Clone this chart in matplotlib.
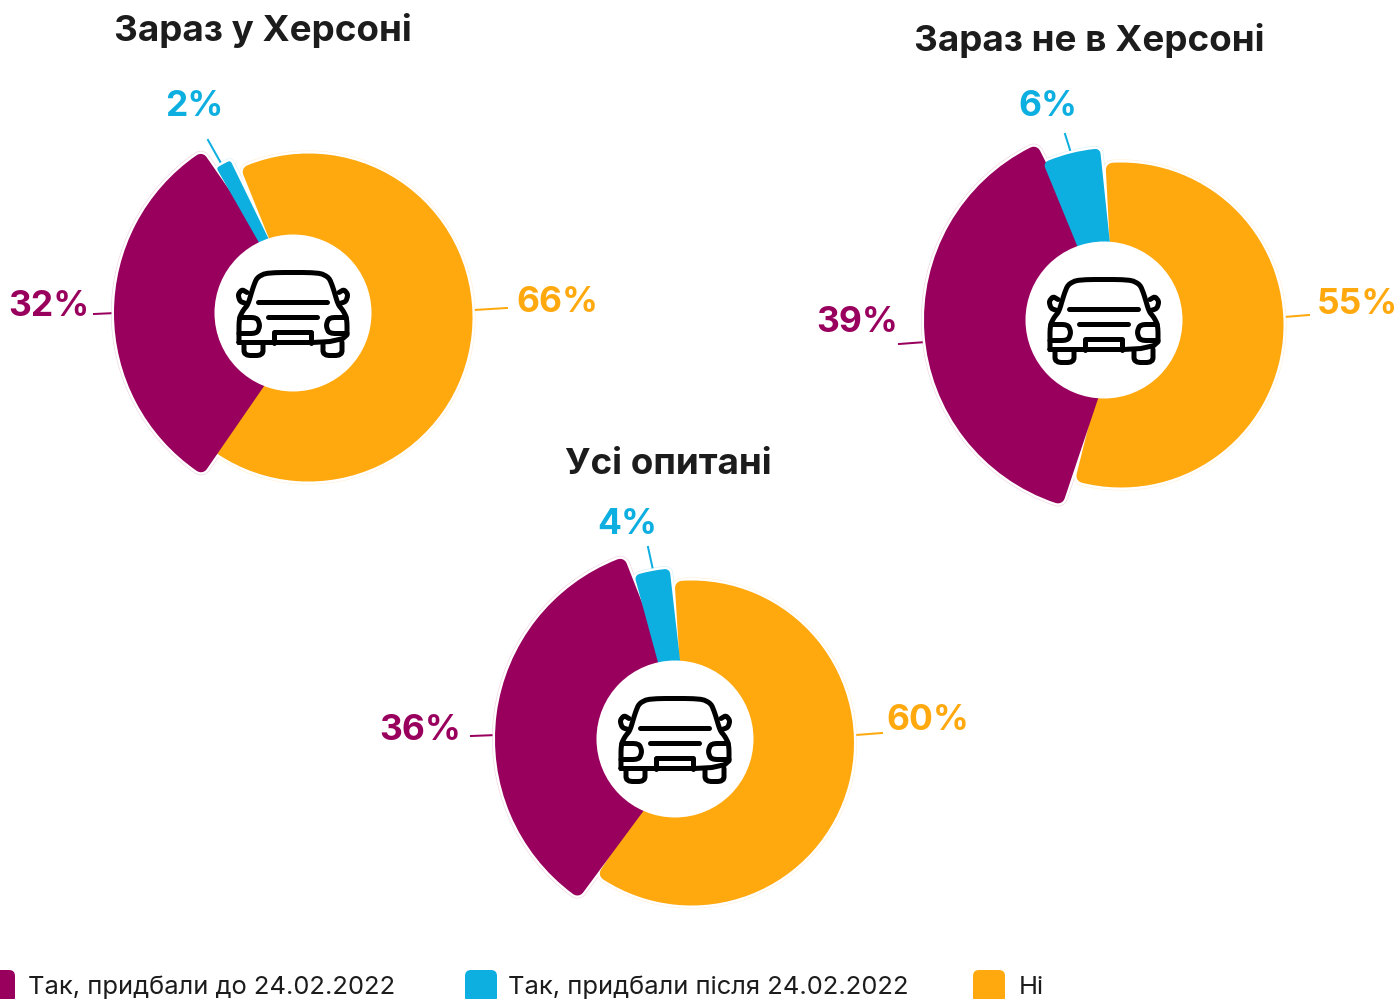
import matplotlib
matplotlib.use("Agg")
import matplotlib.pyplot as plt
import numpy as np
from matplotlib.patches import Wedge, Circle, FancyBboxPatch

W, H = 1398, 999
plt.rcParams['font.family'] = ['Inter', 'DejaVu Sans']

# shares in %, order: no / before / after
titles = ["Зараз у Херсоні", "Зараз не в Херсоні", "Усі опитані"]
no_car = [66, 55, 60]
before = [32, 39, 36]
after = [2, 6, 4]
legend_labels = ["Так, придбали до 24.02.2022", "Так, придбали після 24.02.2022", "Ні"]

PURPLE = '#99005E'
BLUE = '#0DAEE0'
ORANGE = '#FFA90F'
DARK = '#1c1c1c'
colors = [ORANGE, PURPLE, BLUE]


def Y(y):
    # picture y (down) to axes y (up)
    return H - y


fig = plt.figure(figsize=(W / 100, H / 100), dpi=100)
ax = fig.add_axes([0, 0, 1, 1])

# layout of each donut: hole centre, rotation, sector offsets/radii/angle trims
layouts = [
    dict(c=(293, 313), rot=108, title=(263, 30),
         off=[(15.5, 4.5), (13, 0), (9, 0)], rad=[157, 185, 166], lw=[14, 14, 5],
         trim=[(6, -4), (9.5, -5), (8, -4.5)],
         val_xy=[(557, 302), (49, 306), (194, 107)],
         lead=[((474, 310), (507, 308)), ((94, 314), (116, 313)), ((208, 140), (222, 165))]),
    dict(c=(1104, 320), rot=93, title=(1089, 40),
         off=[(17, 5), (13, 0), (9, 0)], rad=[155.5, 186, 167], lw=[14, 14, 10],
         trim=[(1, 0), (2, 3.5), (3, 2.3)],
         val_xy=[(1357, 305), (857, 323), (1048, 107)],
         lead=[((1284, 317), (1309, 315)), ((899, 344), (926, 342)), ((1065, 134), (1071, 153))]),
    dict(c=(675, 739), rot=92, title=(668, 465),
         off=[(16.5, 4), (13, 0), (9, 0)], rad=[155.5, 186, 166], lw=[14, 14, 10],
         trim=[(1, -1.5), (5, 2.5), (4.5, 1.2)],
         val_xy=[(928, 721), (420, 731), (627, 524)],
         lead=[((856, 735), (882, 733)), ((471, 736), (497, 735)), ((648, 547), (653, 570))]),
]

# car icon, pixels around the hole centre, y down
car_paths = [
    # body
    [(-54, 28), (-54, 4), (-50, -4), (-45, -10), (-40, -27), (-36, -37), (-26, -42), (26, -42),
     (36, -37), (40, -27), (45, -10), (50, -4), (54, 4), (54, 28), (-54, 28)],
    # screen lines
    [(-35, -13), (34, -13)],
    [(-25, 2), (24, 2)],
    # wheels
    [(-49, 28), (-49, 41), (-30, 41), (-30, 28)],
    [(49, 28), (49, 41), (30, 41), (30, 28)],
    # head lamps
    [(-53, 3), (-36, 3), (-33, 11), (-36, 19), (-54, 19)],
    [(53, 3), (36, 3), (33, 11), (36, 19), (54, 19)],
    # mirrors
    [(-46, -22), (-51, -25), (-55, -20), (-53, -13), (-47, -11)],
    [(46, -22), (51, -25), (55, -20), (53, -13), (47, -11)],
]
# bumper box keeps its sharp corners
car_box = [(-19, 28), (-19, 17), (18, 17), (18, 28)]


def smooth(pts, n=2):
    # corner cutting so the icon gets round corners
    pts = np.array(pts, dtype=float)
    for _ in range(n):
        if len(pts) < 3:
            break
        new = [pts[0]]
        for a, b in zip(pts[:-1], pts[1:]):
            new.append(a * 0.8 + b * 0.2)
            new.append(a * 0.2 + b * 0.8)
        new.append(pts[-1])
        pts = np.array(new)
    return pts


def draw_car(cx, cy):
    for pts in car_paths + [car_box]:
        p = smooth(pts) if pts is not car_box else np.array(pts, dtype=float)
        ax.plot(cx + p[:, 0], Y(cy + 1.5 + p[:, 1]), color='black', lw=5.0 * 0.72,
                solid_capstyle='round', solid_joinstyle='round', zorder=8)


for i, lay in enumerate(layouts):
    vals = [no_car[i], before[i], after[i]]
    cx, cy = lay['c']
    wedges, _ = ax.pie(vals, colors=colors, startangle=lay['rot'], counterclock=False,
                       center=(cx, Y(cy)), radius=180)
    for j, w in enumerate(wedges):
        # each sector is drawn with its own radius and centre, as in the source
        dx, dy = lay['off'][j]
        end_trim, start_trim = lay['trim'][j]
        r = lay['rad'][j]
        lw = lay['lw'][j]
        t1 = w.theta1 + end_trim
        t2 = w.theta2 - start_trim
        center = (cx + dx, Y(cy + dy))
        # pale outer line and white gap under the sector
        ax.add_patch(Wedge(center, r, t1, t2, fc='none', ec=colors[j], alpha=0.2,
                           lw=(lw + 6) * 0.72, joinstyle='round', zorder=2 + j * 0.1))
        ax.add_patch(Wedge(center, r, t1, t2, fc='white', ec='white',
                           lw=(lw + 5) * 0.72, joinstyle='round', zorder=3 + j * 0.1))
        w.set_center(center)
        w.set_radius(r)
        w.set_theta1(t1)
        w.set_theta2(t2)
        w.set_edgecolor(colors[j])
        w.set_linewidth(lw * 0.72)
        w.set_joinstyle('round')
        w.set_zorder(4 + j * 0.1)

        (x0, y0), (x1, y1) = lay['lead'][j]
        ax.plot([x0, x1], [Y(y0), Y(y1)], color=colors[j], lw=2.0 * 0.72, zorder=1)
        vx, vy = lay['val_xy'][j]
        ax.text(vx, Y(vy), f"{vals[j]}%", color=colors[j], fontsize=25.5, fontweight='bold',
                ha='center', va='center', zorder=9)

    ax.add_patch(Circle((cx, Y(cy)), 78.5, fc='white', ec='none', zorder=7))
    draw_car(cx, cy)
    tx, ty = lay['title']
    ax.text(tx, Y(ty), titles[i], color=DARK, fontsize=26.5, fontweight='bold',
            ha='center', va='center', zorder=9)

# legend along the bottom edge, cut by the picture
legend_colors = [PURPLE, BLUE, ORANGE]
legend_x = [-17, 465, 973]
legend_text_x = [28, 508, 1019]
for k in range(3):
    ax.add_patch(FancyBboxPatch((legend_x[k] + 6, Y(1003) + 6), 20, 21,
                                boxstyle="round,pad=6,rounding_size=6",
                                fc=legend_colors[k], ec='none', zorder=5))
    ax.text(legend_text_x[k], Y(987), legend_labels[k], color=DARK, fontsize=18.4,
            ha='left', va='center', zorder=9)

ax.set_xlim(0, W)
ax.set_ylim(0, H)
ax.set_aspect('auto')
ax.axis('off')

fig.savefig("out.png", dpi=100, facecolor='white')
